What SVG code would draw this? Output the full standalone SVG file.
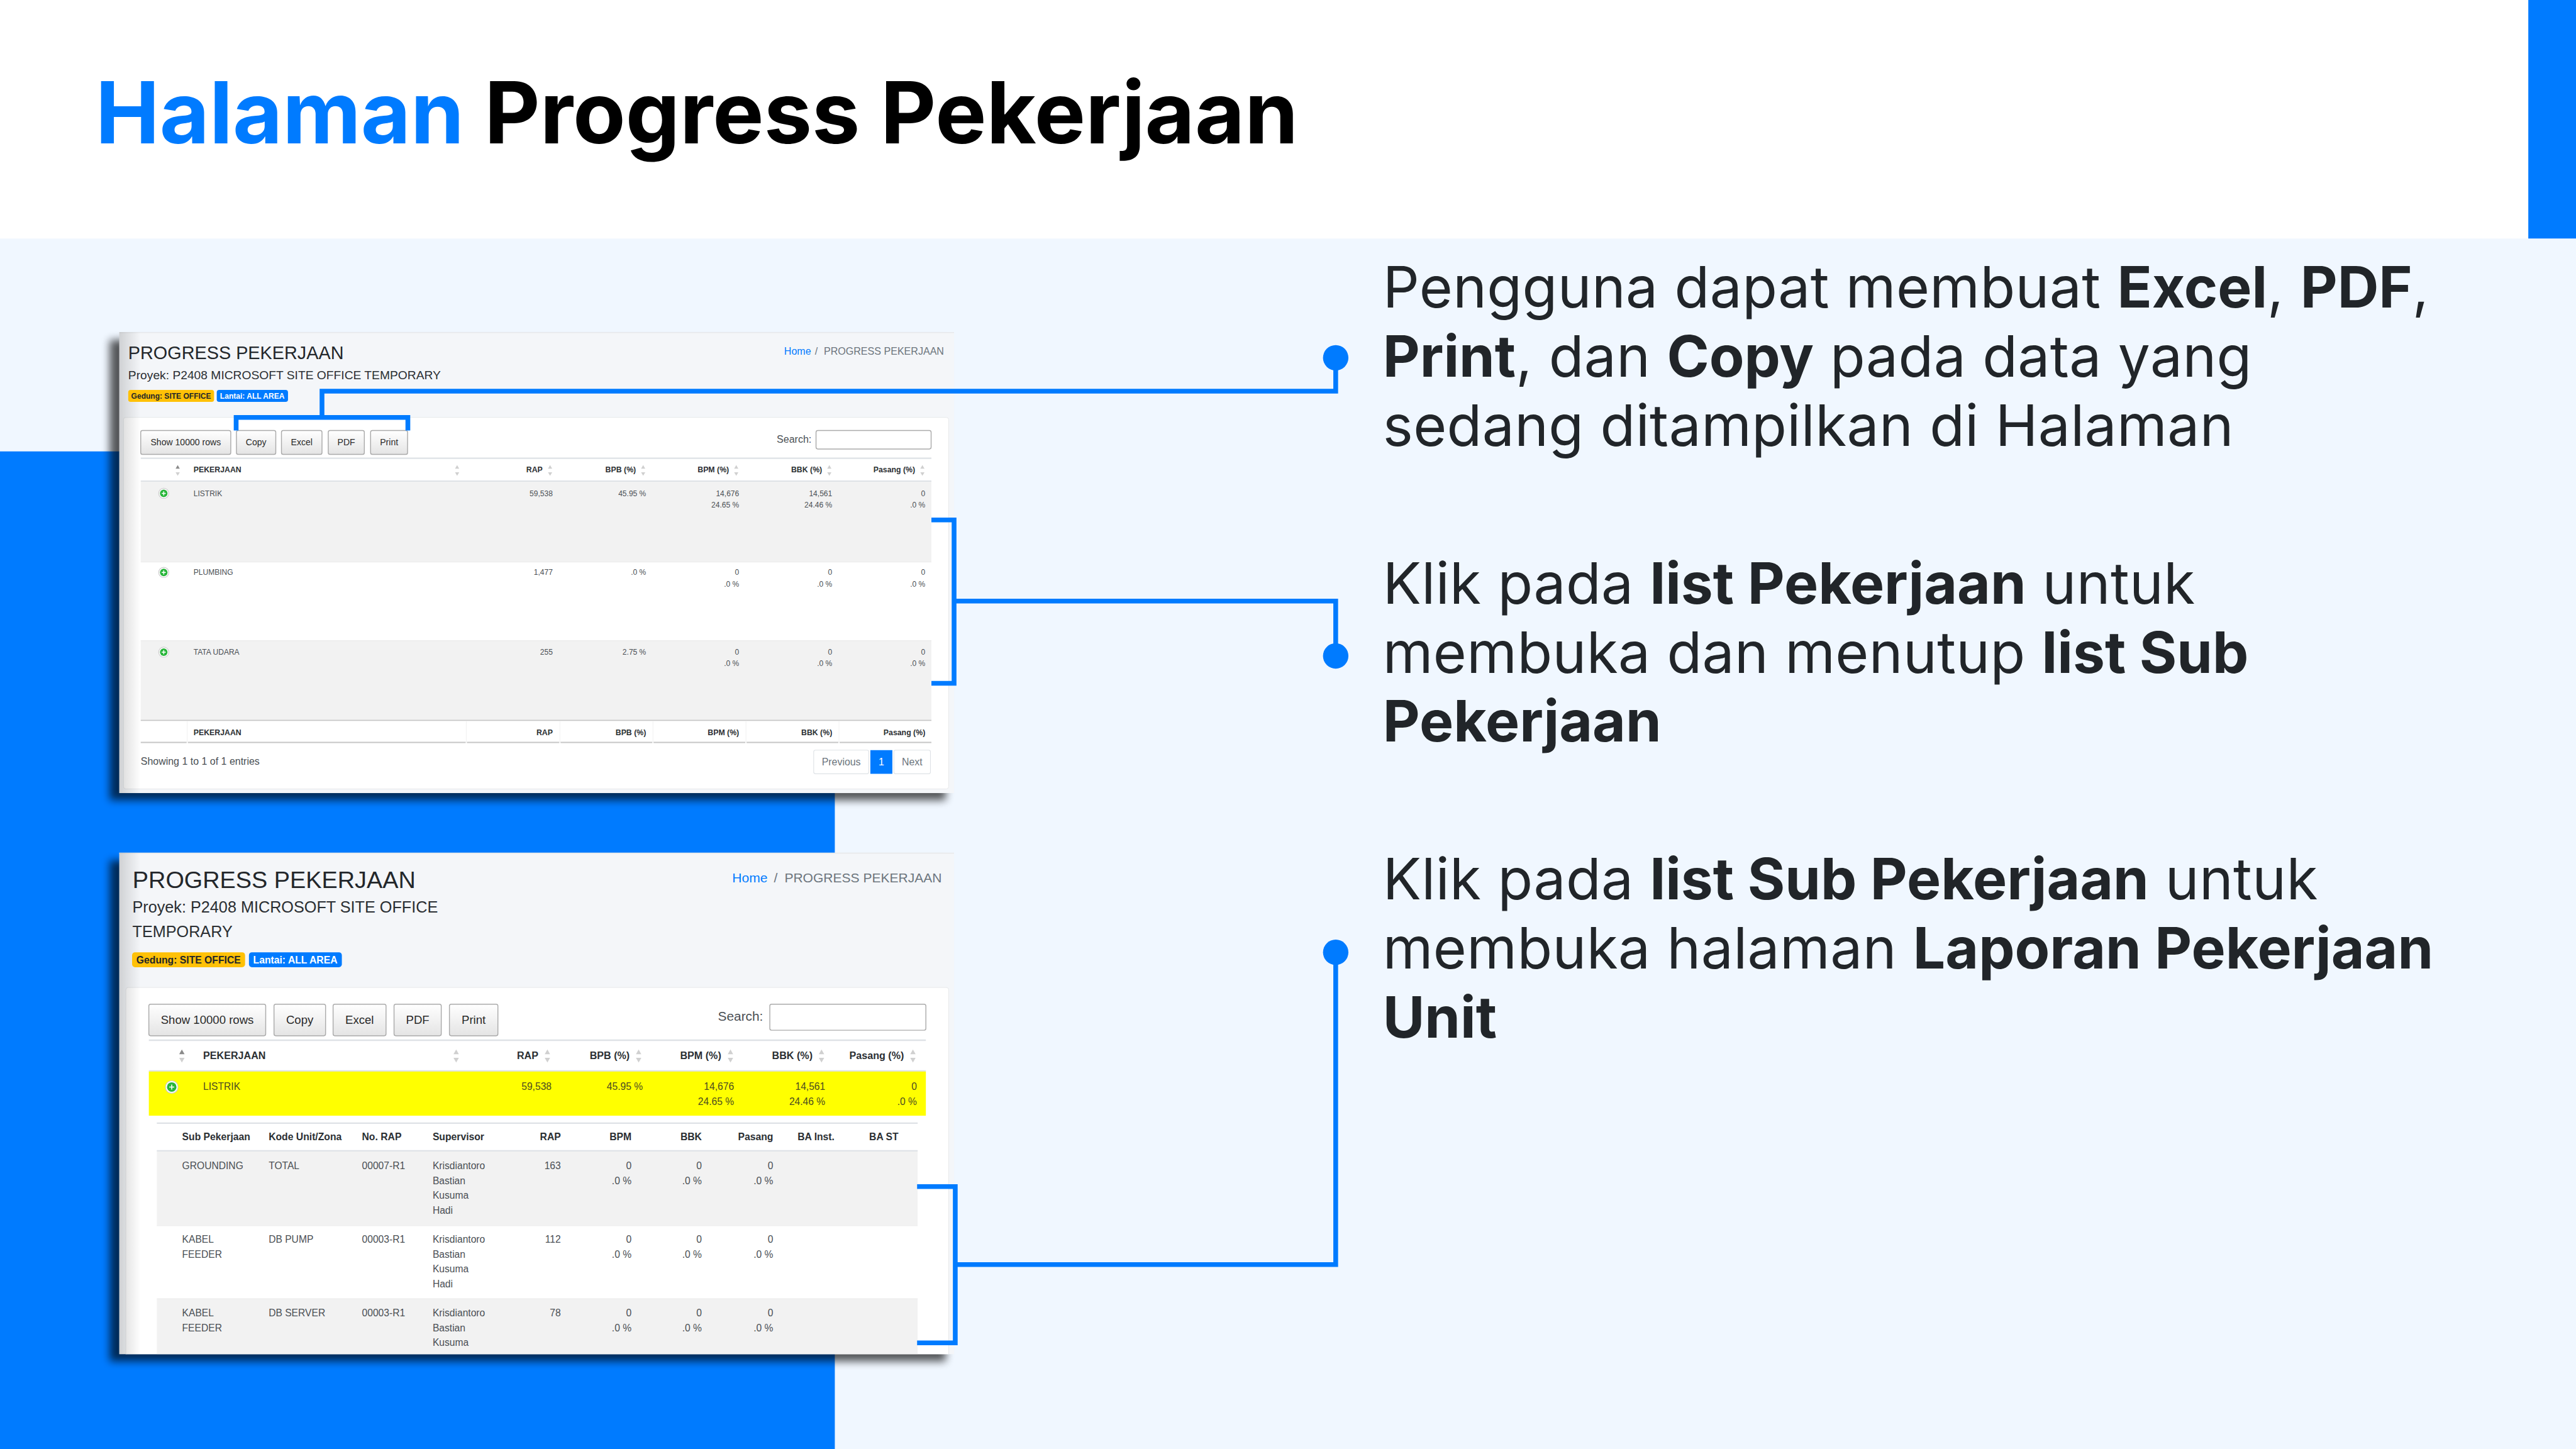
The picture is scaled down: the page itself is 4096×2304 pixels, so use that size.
<svg xmlns="http://www.w3.org/2000/svg" width="4096" height="2304" viewBox="0 0 4096 2304">
<defs>
<style>
text{font-family:"Liberation Sans",Arial,sans-serif;fill:#4a4f54}
.big{font-family:Inter,"Noto Sans",sans-serif;font-size:96px;fill:#212529;letter-spacing:.4px}
.big tspan.b{font-weight:700;letter-spacing:0}
.title{font-family:Inter,"Noto Sans",sans-serif;font-size:144px;font-weight:700;fill:#000}
.h1{fill:#23272b}.sub{fill:#2b2f33}
.bb{font-weight:700;fill:#212529}
.bw{font-weight:700;fill:#fff}
.hd{font-weight:700;fill:#2b2f33}
.r{text-anchor:end}.m{text-anchor:middle}
.gr{fill:#6c757d}.lk{fill:#007bff}
.btn{fill:url(#bg);stroke:#aaa;stroke-width:1.5}
.btxt{fill:#2a2a2a;text-anchor:middle}
.inp{fill:#fff;stroke:#aaa;stroke-width:1.5}
.ln{stroke:#dee2e6;stroke-width:2.5;fill:none}
.ft{stroke:#c6c6c6;stroke-width:2;fill:none}
.cd{stroke:#f0f0f0;stroke-width:1;fill:none}
.pg{fill:#fff;stroke:#dee2e6;stroke-width:1.2}
.con{stroke:#007bff;stroke-width:8;fill:none;stroke-linejoin:miter}
.dot{fill:#007bff}
.up{fill:#d0d0d0}.upd{fill:#8a8a8a}
.icb{fill:#fff;stroke:#ccc;stroke-width:1.2}.ic{fill:#28b53a}.pl{stroke:#fff;stroke-width:1.6}
.y{fill:#4c4c20}
</style>
<linearGradient id="bg" x1="0" y1="0" x2="0" y2="1"><stop offset="0" stop-color="#fff"/><stop offset="1" stop-color="#e4e4e4"/></linearGradient>
<linearGradient id="ins" x1="0" y1="0" x2="1" y2="0"><stop offset="0" stop-color="#000" stop-opacity=".15"/><stop offset="1" stop-color="#000" stop-opacity="0"/></linearGradient>
<filter id="sh" x="-5%" y="-5%" width="110%" height="110%"><feGaussianBlur stdDeviation="7"/></filter>
<clipPath id="c2"><rect x="200" y="1430" width="1400" height="841"/></clipPath>
<g id="a"><path class="up" d="M0-6 3.5 0H-3.5Z"/><path class="up" d="M0 12 3.5 6H-3.5Z"/></g>
<g id="ad"><path class="upd" d="M0-6 3.5 0H-3.5Z"/><path class="up" d="M0 12 3.5 6H-3.500Z"/></g>
<g id="a2"><path class="up" d="M0-8 4.500 0H-4.500Z"/><path class="up" d="M0 14 4.500 6H-4.500Z"/></g>
<g id="ad2"><path class="upd" d="M0-8 4.500 0H-4.500Z"/><path class="up" d="M0 14 4.500 6H-4.500Z"/></g>
<g id="ico"><circle class="icb" r="8.500"/><circle class="ic" r="6.300"/><path class="pl" d="M-3.400 0H3.400M0-3.400V3.400"/></g>
<g id="ico2"><circle class="icb" r="10.500"/><circle class="ic" r="8"/><path class="pl" d="M-4.200 0H4.200M0-4.200V4.200"/></g>
</defs>
<g transform="scale(.948148)">
<g id="background">
<rect width="4320" height="2430" fill="#fff"/>
<rect y="400" width="4320" height="2030" fill="#f0f7ff"/>
<rect y="757" width="1400" height="1673" fill="#007bff"/>
<rect x="4240" width="80" height="400" fill="#007bff"/>
</g>
<g id="title"><text class="title" x="160" y="240"><tspan style="fill:#007bff">Halaman</tspan> Progress Pekerjaan</text></g>

<g id="screenshot-1">
<rect x="184" y="570" width="1402" height="772" fill="#000" opacity=".65" filter="url(#sh)"/>
<rect x="200" y="557" width="1400" height="773" fill="#f4f6f9"/>
<rect x="200" y="557" width="1400" height="1.500" fill="#e6e8ea"/>
<rect x="207" y="700" width="1384" height="623" rx="4" fill="#fff" stroke="#e6e8ea"/>
<rect x="200" y="557" width="36" height="773" fill="url(#ins)"/>
<text class="h1" x="215" y="602" font-size="30.400">PROGRESS PEKERJAAN</text>
<text class="sub" x="215" y="636" font-size="20.300">Proyek: P2408 MICROSOFT SITE OFFICE TEMPORARY</text>
<rect x="215" y="654" width="144" height="20" rx="4" fill="#ffc107"/><text class="bb" x="220" y="669" font-size="12.700">Gedung: SITE OFFICE</text>
<rect x="363.500" y="654" width="119.500" height="20" rx="4" fill="#007bff"/><text class="bw" x="369" y="669" font-size="12.700">Lantai: ALL AREA</text>
<text class="lk" x="1315" y="595" font-size="16.900">Home</text><text class="gr m" x="1369" y="595" font-size="16.900">/</text><text class="gr" x="1381.600" y="595" font-size="16.950">PROGRESS PEKERJAAN</text>
<rect class="btn" x="236" y="722" width="151" height="40" rx="3"/><rect class="btn" x="396.500" y="722" width="66" height="40" rx="3"/><rect class="btn" x="472" y="722" width="68" height="40" rx="3"/><rect class="btn" x="550.500" y="722" width="60.500" height="40" rx="3"/><rect class="btn" x="621.500" y="722" width="62" height="40" rx="3"/>
<g font-size="14.850"><text class="btxt" x="311.500" y="747">Show 10000 rows</text><text class="btxt" x="429.500" y="747">Copy</text><text class="btxt" x="506" y="747">Excel</text><text class="btxt" x="580.700" y="747">PDF</text><text class="btxt" x="652.500" y="747">Print</text></g>
<text x="1302.600" y="742" font-size="16.900">Search:</text><rect class="inp" x="1368.500" y="722" width="193" height="31" rx="3"/>
<path class="ln" d="M236 768.500H1562M236 807H1562"/>
<g font-size="13"><text class="hd" x="324.600" y="792">PEKERJAAN</text><text class="hd r" x="910" y="792">RAP</text><text class="hd r" x="1066.500" y="792">BPB (%)</text><text class="hd r" x="1222.600" y="792">BPM (%)</text><text class="hd r" x="1378.700" y="792">BBK (%)</text><text class="hd r" x="1534.700" y="792">Pasang (%)</text></g>
<use href="#ad" x="298" y="786"/><use href="#a" x="766.600" y="786"/><use href="#a" x="922.500" y="786"/><use href="#a" x="1078.600" y="786"/><use href="#a" x="1234.700" y="786"/><use href="#a" x="1390.800" y="786"/><use href="#a" x="1546.900" y="786"/>
<rect x="236" y="808" width="1326" height="134" fill="#f2f2f2"/><rect x="236" y="1074" width="1326" height="133" fill="#f2f2f2"/>
<path d="M236 942.500H1562M236 1074.500H1562" stroke="#e8e8e8" stroke-width="1"/>
<use href="#ico" x="274.600" y="827.300"/><use href="#ico" x="274.600" y="960"/><use href="#ico" x="274.600" y="1093.700"/>
<g font-size="12.700">
<text x="324.600" y="831.700">LISTRIK</text><text class="r" x="927" y="831.700">59,538</text><text class="r" x="1083.500" y="831.700">45.95 %</text><text class="r" x="1239.500" y="831.700">14,676</text><text class="r" x="1239.500" y="851">24.65 %</text><text class="r" x="1395.600" y="831.700">14,561</text><text class="r" x="1395.600" y="851">24.46 %</text><text class="r" x="1551.700" y="831.700">0</text><text class="r" x="1551.700" y="851">.0 %</text>
<text x="324.600" y="964.300">PLUMBING</text><text class="r" x="927" y="964.300">1,477</text><text class="r" x="1083.500" y="964.300">.0 %</text><text class="r" x="1239.500" y="964.300">0</text><text class="r" x="1239.500" y="983.700">.0 %</text><text class="r" x="1395.600" y="964.300">0</text><text class="r" x="1395.600" y="983.700">.0 %</text><text class="r" x="1551.700" y="964.300">0</text><text class="r" x="1551.700" y="983.700">.0 %</text>
<text x="324.600" y="1097.700">TATA UDARA</text><text class="r" x="927" y="1097.700">255</text><text class="r" x="1083.500" y="1097.700">2.75 %</text><text class="r" x="1239.500" y="1097.700">0</text><text class="r" x="1239.500" y="1117">.0 %</text><text class="r" x="1395.600" y="1097.700">0</text><text class="r" x="1395.600" y="1117">.0 %</text><text class="r" x="1551.700" y="1097.700">0</text><text class="r" x="1551.700" y="1117">.0 %</text>
</g>
<path class="ft" d="M236 1208H1562M236 1245H313M315 1245H781M783 1245H938M940 1245H1094M1096 1245H1250M1252 1245H1406M1408 1245H1562"/>
<path class="cd" d="M314 1209V1245M782 1209V1245M939 1209V1245M1095 1209V1245M1251 1209V1245M1407 1209V1245"/>
<g font-size="13"><text class="hd" x="324.600" y="1232.700">PEKERJAAN</text><text class="hd r" x="927" y="1232.700">RAP</text><text class="hd r" x="1083.500" y="1232.700">BPB (%)</text><text class="hd r" x="1239.500" y="1232.700">BPM (%)</text><text class="hd r" x="1395.600" y="1232.700">BBK (%)</text><text class="hd r" x="1551.700" y="1232.700">Pasang (%)</text></g>
<text x="236" y="1283" font-size="16.850">Showing 1 to 1 of 1 entries</text>
<rect class="pg" x="1364.600" y="1258" width="92.400" height="39.700" rx="3"/><rect x="1459.600" y="1258" width="36.900" height="39.700" fill="#007bff"/><rect class="pg" x="1499" y="1258" width="61.400" height="39.700" rx="3"/>
<g font-size="16.800"><text class="gr m" x="1410.800" y="1284">Previous</text><text class="m" x="1478" y="1284" style="fill:#fff">1</text><text class="gr m" x="1529.700" y="1284">Next</text></g>
</g>

<g id="screenshot-2">
<rect x="184" y="1443" width="1402" height="840" fill="#000" opacity=".65" filter="url(#sh)"/>
<rect x="200" y="1430" width="1400" height="841" fill="#f4f6f9"/>
<rect x="200" y="1430" width="1400" height="1.500" fill="#e6e8ea"/>
<g clip-path="url(#c2)">
<rect x="211" y="1656" width="1380" height="640" rx="4" fill="#fff" stroke="#e6e8ea"/>
<rect x="200" y="1430" width="36" height="841" fill="url(#ins)"/>
<text class="h1" x="222.400" y="1489" font-size="39.900">PROGRESS PEKERJAAN</text>
<text class="sub" x="222" y="1530.700" font-size="26.600">Proyek: P2408 MICROSOFT SITE OFFICE</text>
<text class="sub" x="222" y="1572" font-size="26.600">TEMPORARY</text>
<rect x="221.500" y="1597" width="189.500" height="25" rx="5" fill="#ffc107"/><text class="bb" x="228.700" y="1615.700" font-size="16.600">Gedung: SITE OFFICE</text>
<rect x="417.500" y="1597" width="155.800" height="25" rx="5" fill="#007bff"/><text class="bw" x="424.600" y="1615.700" font-size="16.600">Lantai: ALL AREA</text>
<text class="lk" x="1228" y="1480" font-size="22.200">Home</text>
<text class="gr m" x="1301" y="1480" font-size="22.200">/</text><text class="gr" x="1315.600" y="1480" font-size="22.200">PROGRESS PEKERJAAN</text>
<rect class="btn" x="249.600" y="1684" width="196" height="53" rx="3"/><rect class="btn" x="459.500" y="1684" width="86.500" height="53" rx="3"/><rect class="btn" x="558.600" y="1684" width="88.800" height="53" rx="3"/><rect class="btn" x="660.800" y="1684" width="79.200" height="53" rx="3"/><rect class="btn" x="753.700" y="1684" width="81.300" height="53" rx="3"/>
<g font-size="19.600"><text class="btxt" x="347.600" y="1717">Show 10000 rows</text><text class="btxt" x="502.700" y="1717">Copy</text><text class="btxt" x="603" y="1717">Excel</text><text class="btxt" x="700.400" y="1717">PDF</text><text class="btxt" x="794.300" y="1717">Print</text></g>
<text x="1204" y="1712" font-size="22">Search:</text><rect class="inp" x="1291" y="1684" width="261.700" height="43.700" rx="3"/>
<path class="ln" d="M249.600 1744.500H1552.700M249.600 1796H1552.700"/>
<g font-size="17"><text class="hd" x="340.700" y="1776">PEKERJAAN</text><text class="hd r" x="902.700" y="1776">RAP</text><text class="hd r" x="1056" y="1776">BPB (%)</text><text class="hd r" x="1209.500" y="1776">BPM (%)</text><text class="hd r" x="1362.700" y="1776">BBK (%)</text><text class="hd r" x="1516" y="1776">Pasang (%)</text></g>
<use href="#ad2" x="305" y="1768"/><use href="#a2" x="765" y="1768"/><use href="#a2" x="918" y="1768"/><use href="#a2" x="1071" y="1768"/><use href="#a2" x="1225" y="1768"/><use href="#a2" x="1377.700" y="1768"/><use href="#a2" x="1531" y="1768"/>
<rect x="249.600" y="1797" width="1303.100" height="74" fill="#ff0"/>
<use href="#ico2" x="288" y="1823"/>
<g font-size="16.500">
<text class="y" x="340.700" y="1827.300">LISTRIK</text><text class="y r" x="925" y="1827.300">59,538</text><text class="y r" x="1078" y="1827.300">45.95 %</text><text class="y r" x="1231" y="1827.300">14,676</text><text class="y r" x="1231" y="1852.700">24.65 %</text><text class="y r" x="1384" y="1827.300">14,561</text><text class="y r" x="1384" y="1852.700">24.46 %</text><text class="y r" x="1537.700" y="1827.300">0</text><text class="y r" x="1537.700" y="1852.700">.0 %</text>
</g>
<path class="ln" d="M263 1883.500H1539M263 1930H1539"/>
<g font-size="16.600"><text class="hd" x="305.400" y="1912">Sub Pekerjaan</text><text class="hd" x="450.500" y="1912">Kode Unit/Zona</text><text class="hd" x="607" y="1912">No. RAP</text><text class="hd" x="725.500" y="1912">Supervisor</text><text class="hd r" x="940.500" y="1912">RAP</text><text class="hd r" x="1059" y="1912">BPM</text><text class="hd r" x="1177" y="1912">BBK</text><text class="hd r" x="1296.700" y="1912">Pasang</text><text class="hd" x="1337.500" y="1912">BA Inst.</text><text class="hd" x="1457.700" y="1912">BA ST</text></g>
<rect x="263" y="1931" width="1276" height="124" fill="#f2f2f2"/><rect x="263" y="2178" width="1276" height="93" fill="#f2f2f2"/>
<path d="M263 2055.500H1539M263 2178H1539" stroke="#e8e8e8"/>
<g font-size="16.500">
<text x="305.400" y="1960.700">GROUNDING</text><text x="450.500" y="1960.700">TOTAL</text><text x="607" y="1960.700">00007-R1</text><text x="725.500" y="1960.700">Krisdiantoro</text><text x="725.500" y="1985.700">Bastian</text><text x="725.500" y="2010.700">Kusuma</text><text x="725.500" y="2035.700">Hadi</text><text class="r" x="940.500" y="1960.700">163</text><text class="r" x="1059" y="1960.700">0</text><text class="r" x="1059" y="1985.700">.0 %</text><text class="r" x="1177" y="1960.700">0</text><text class="r" x="1177" y="1985.700">.0 %</text><text class="r" x="1296.700" y="1960.700">0</text><text class="r" x="1296.700" y="1985.700">.0 %</text>
<text x="305.400" y="2084">KABEL</text><text x="305.400" y="2109">FEEDER</text><text x="450.500" y="2084">DB PUMP</text><text x="607" y="2084">00003-R1</text><text x="725.500" y="2084">Krisdiantoro</text><text x="725.500" y="2109">Bastian</text><text x="725.500" y="2134">Kusuma</text><text x="725.500" y="2159">Hadi</text><text class="r" x="940.500" y="2084">112</text><text class="r" x="1059" y="2084">0</text><text class="r" x="1059" y="2109">.0 %</text><text class="r" x="1177" y="2084">0</text><text class="r" x="1177" y="2109">.0 %</text><text class="r" x="1296.700" y="2084">0</text><text class="r" x="1296.700" y="2109">.0 %</text>
<text x="305.400" y="2207.300">KABEL</text><text x="305.400" y="2232.300">FEEDER</text><text x="450.500" y="2207.300">DB SERVER</text><text x="607" y="2207.300">00003-R1</text><text x="725.500" y="2207.300">Krisdiantoro</text><text x="725.500" y="2232.300">Bastian</text><text x="725.500" y="2257.300">Kusuma</text><text class="r" x="940.500" y="2207.300">78</text><text class="r" x="1059" y="2207.300">0</text><text class="r" x="1059" y="2232.300">.0 %</text><text class="r" x="1177" y="2207.300">0</text><text class="r" x="1177" y="2232.300">.0 %</text><text class="r" x="1296.700" y="2207.300">0</text><text class="r" x="1296.700" y="2232.300">.0 %</text>
</g>
</g>
</g>

<g id="connectors">
<path class="con" d="M2240 600V656H540V700M396 722V700H684V722"/>
<path class="con" d="M2240 1100V1008H1600M1562 872H1600V1146H1562"/>
<path class="con" d="M2240 1597V2120.700H1602M1538 1990H1602V2252H1538"/>
</g>
<g id="note-1"><circle class="dot" cx="2240" cy="600" r="21.300"/>
<text class="big" x="2319" y="516">Pengguna dapat membuat <tspan class="b">Excel</tspan>, <tspan class="b">PDF</tspan>,</text>
<text class="big" x="2319" y="632"><tspan class="b">Print</tspan>, dan <tspan class="b">Copy</tspan> pada data yang</text>
<text class="big" x="2319" y="748">sedang ditampilkan di Halaman</text></g>
<g id="note-2"><circle class="dot" cx="2240" cy="1100" r="21.300"/>
<text class="big" x="2319" y="1012">Klik pada <tspan class="b">list Pekerjaan</tspan> untuk</text>
<text class="big" x="2319" y="1128">membuka dan menutup <tspan class="b">list Sub</tspan></text>
<text class="big" x="2319" y="1244"><tspan class="b">Pekerjaan</tspan></text></g>
<g id="note-3"><circle class="dot" cx="2240" cy="1597" r="21.300"/>
<text class="big" x="2319" y="1508">Klik pada <tspan class="b">list Sub Pekerjaan</tspan> untuk</text>
<text class="big" x="2319" y="1624">membuka halaman <tspan class="b">Laporan Pekerjaan</tspan></text>
<text class="big" x="2319" y="1740"><tspan class="b">Unit</tspan></text></g>
</g>
</svg>
